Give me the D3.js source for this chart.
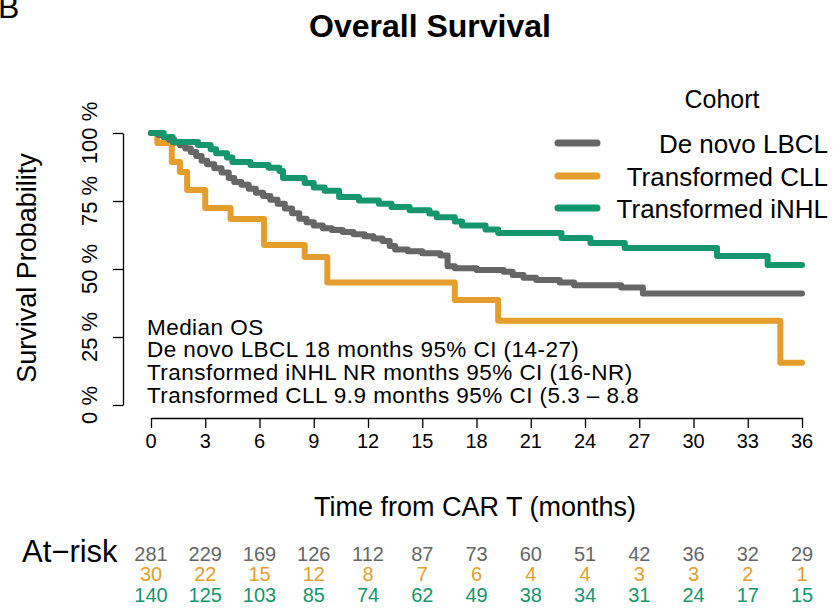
<!DOCTYPE html>
<html>
<head>
<meta charset="utf-8">
<script src="https://cdn.jsdelivr.net/npm/d3@7"></script>
<style>
  body { margin: 0; background: #fff; }
  svg { display: block; font-family: "Liberation Sans", Arial, Helvetica, sans-serif; }
</style>
</head>
<body>
<svg id="chart" width="833" height="613"></svg>
<script>
// Kaplan–Meier step estimates per cohort: time (months) at which survival drops, and the new level
const cohorts = ["De novo LBCL", "Transformed CLL", "Transformed iNHL"];
const cohortColors = ["#666666", "#E59E2E", "#15966C"];

const lbclTimes = [0, 0.4, 0.7, 1.0, 1.3, 1.6, 1.9, 2.2, 2.5, 2.8, 3.1, 3.5, 3.9, 4.3, 4.6, 5.0, 5.4, 5.8, 6.2, 6.6,
  7.0, 7.4, 7.8, 8.2, 8.6, 9.0, 9.5, 10.0, 10.6, 11.2, 11.8, 12.3, 12.8, 13.2, 13.5, 14.2, 15.0, 16.0, 16.4, 16.8,
  18.0, 19.5, 20.0, 20.6, 21.3, 22.6, 23.4, 26.0, 27.2];
const lbclSurv = [1, 0.993, 0.985, 0.975, 0.965, 0.955, 0.943, 0.93, 0.915, 0.898, 0.885, 0.87, 0.855, 0.835, 0.82, 0.81,
  0.795, 0.78, 0.768, 0.755, 0.74, 0.722, 0.705, 0.685, 0.672, 0.66, 0.65, 0.643, 0.636, 0.628, 0.62, 0.612, 0.603,
  0.585, 0.572, 0.565, 0.558, 0.55, 0.51, 0.503, 0.496, 0.49, 0.478, 0.468, 0.46, 0.45, 0.44, 0.432, 0.41];

const cllTimes = [0, 0.35, 1.15, 1.6, 2.0, 3.0, 4.4, 6.25, 8.5, 9.75, 16.8, 19.2, 34.8];
const cllSurv = [1, 0.963, 0.893, 0.857, 0.79, 0.724, 0.684, 0.588, 0.544, 0.45, 0.386, 0.31, 0.155];

const inhlTimes = [0, 0.7, 1.2, 2.6, 3.3, 3.6, 4.2, 4.5, 5.5, 6.5, 7.1, 7.3, 8.5, 9.0, 9.6, 10.4, 11.5, 12.6, 13.3, 14.3,
  15.4, 15.8, 16.8, 17.2, 18.5, 19.2, 22.7, 24.3, 26.2, 31.3, 34.1];
const inhlSurv = [1, 0.985, 0.967, 0.956, 0.94, 0.926, 0.91, 0.893, 0.882, 0.872, 0.86, 0.835, 0.816, 0.8, 0.788, 0.765,
  0.752, 0.74, 0.728, 0.716, 0.704, 0.69, 0.675, 0.66, 0.645, 0.632, 0.614, 0.596, 0.577, 0.548, 0.515];

// Numbers at risk under each x tick
const riskTimes = [0, 3, 6, 9, 12, 15, 18, 21, 24, 27, 30, 33, 36];
const riskLBCL = [281, 229, 169, 126, 112, 87, 73, 60, 51, 42, 36, 32, 29];
const riskCLL = [30, 22, 15, 12, 8, 7, 6, 4, 4, 3, 3, 2, 1];
const riskINHL = [140, 125, 103, 85, 74, 62, 49, 38, 34, 31, 24, 17, 15];

const xTicks = riskTimes;
const yTicks = [0, 0.25, 0.5, 0.75, 1];
const yTickLabels = ["0 %", "25 %", "50 %", "75 %", "100 %"];

const medianLines = [
  "Median OS",
  "De novo LBCL 18 months 95% CI (14-27)",
  "Transformed iNHL NR months 95% CI (16-NR)",
  "Transformed CLL 9.9 months 95% CI (5.3 \u2013 8.8"
];

const svg = d3.select("#chart");
const x = d3.scaleLinear().domain([0, 36]).range([151, 802]);
const y = d3.scaleLinear().domain([0, 1]).range([405, 133]);

// Panel letter (partly clipped at the top edge)
svg.append("text").attr("x", -2).attr("y", 18).attr("font-size", 32).text("B");

// Title
svg.append("text").attr("x", 430).attr("y", 37).attr("text-anchor", "middle")
  .attr("font-size", 32).attr("font-weight", "bold").text("Overall Survival");

// Axes
const yAxis = d3.axisLeft(y).tickValues(yTicks).tickSize(10).tickSizeOuter(0).tickFormat("");
const gy = svg.append("g").attr("transform", "translate(123,0)").call(yAxis);
const xAxis = d3.axisBottom(x).tickValues(xTicks).tickSize(10).tickSizeOuter(0).tickFormat("");
const gx = svg.append("g").attr("transform", "translate(0,418)").call(xAxis);
[gy, gx].forEach(g => {
  g.selectAll("path, line").attr("stroke", "#000").attr("stroke-width", 1.3);
});

svg.append("g").selectAll("text").data(yTicks).join("text")
  .attr("transform", d => `translate(97,${y(d)}) rotate(-90)`)
  .attr("text-anchor", "middle").attr("font-size", 22).text((d, i) => yTickLabels[i]);

svg.append("g").selectAll("text").data(xTicks).join("text")
  .attr("x", d => x(d)).attr("y", 448).attr("text-anchor", "middle")
  .attr("font-size", 20).text(d => d);

svg.append("text").attr("transform", "translate(36,268) rotate(-90)")
  .attr("text-anchor", "middle").attr("font-size", 27).text("Survival Probability");

svg.append("text").attr("x", 475).attr("y", 516).attr("text-anchor", "middle")
  .attr("font-size", 27).text("Time from CAR T (months)");

// Survival curves
const line = d3.line().x(d => x(d[0])).y(d => y(d[1])).curve(d3.curveStepAfter);
const series = [
  { times: lbclTimes, surv: lbclSurv, color: cohortColors[0] },
  { times: cllTimes, surv: cllSurv, color: cohortColors[1] },
  { times: inhlTimes, surv: inhlSurv, color: cohortColors[2] }
];
const drawOrder = [1, 0, 2];
drawOrder.forEach(i => {
  const s = series[i];
  const pts = s.times.map((t, k) => [t, s.surv[k]]);
  pts.push([36, s.surv[s.surv.length - 1]]);
  svg.append("path").datum(pts).attr("d", line)
    .attr("fill", "none").attr("stroke", s.color).attr("stroke-width", 6)
    .attr("stroke-linejoin", "round").attr("stroke-linecap", "round");
});

// Median OS annotation
svg.append("g").selectAll("text").data(medianLines).join("text")
  .attr("x", 147).attr("y", (d, i) => 334.5 + i * 22.8)
  .attr("font-size", 22.5).attr("letter-spacing", 0.45).text(d => d);

// Legend
svg.append("text").attr("x", 722).attr("y", 108).attr("text-anchor", "middle")
  .attr("font-size", 25).text("Cohort");
const legendY = [143, 176, 208];
cohorts.forEach((c, i) => {
  svg.append("line").attr("x1", 558).attr("x2", 597).attr("y1", legendY[i]).attr("y2", legendY[i])
    .attr("stroke", cohortColors[i]).attr("stroke-width", 7).attr("stroke-linecap", "round");
  svg.append("text").attr("x", 828).attr("y", legendY[i] + 10).attr("text-anchor", "end")
    .attr("font-size", 26).text(c);
});

// At-risk table
svg.append("text").attr("x", 22).attr("y", 562).attr("font-size", 31).text("At\u2212risk");
const riskRows = [riskLBCL, riskCLL, riskINHL];
const riskY = [561, 581, 602];
riskRows.forEach((row, r) => {
  svg.append("g").selectAll("text").data(row).join("text")
    .attr("x", (d, k) => x(riskTimes[k])).attr("y", riskY[r]).attr("text-anchor", "middle")
    .attr("font-size", 20).attr("fill", cohortColors[r]).text(d => d);
});
</script>
</body>
</html>
